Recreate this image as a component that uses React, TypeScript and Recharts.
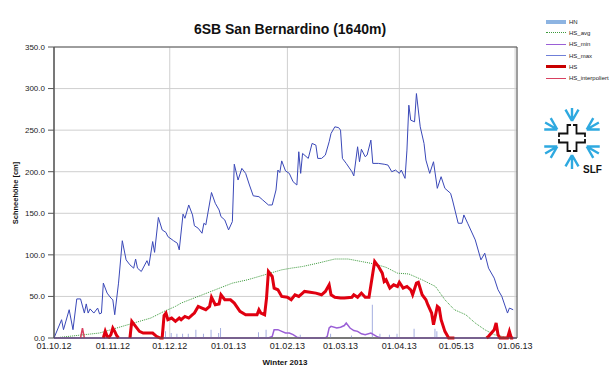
import {
  ComposedChart, Line, Bar, XAxis, YAxis, CartesianGrid, ReferenceArea,
} from 'recharts';

// day index counted from 01.10.12
const xTicks = [0, 31, 61, 92, 123, 151, 182, 212, 243];
const xTickLabels = ['01.10.12', '01.11.12', '01.12.12', '01.01.13', '01.02.13', '01.03.13', '01.04.13', '01.05.13', '01.06.13'];
const yTicks = [0, 50, 100, 150, 200, 250, 300, 350];

type Pt = [number, number | null];

const hsMax: Pt[] = [
  [0, 0], [4, 22], [5, 10], [8, 34], [10, 10], [12, 47], [14, 47], [16, 30], [17, 41], [18, 30],
  [19, 35], [21, 30], [23, 36], [24, 29], [25, 30], [26, 66], [28, 54], [30, 48], [31, 46], [32, 28],
  [34, 66], [36, 117], [38, 94], [40, 88], [42, 84], [43, 95], [44, 84], [46, 80], [49, 93], [50, 87],
  [52, 116], [53, 103], [55, 145], [57, 130], [59, 127], [60, 122], [63, 117], [65, 114], [66, 106],
  [68, 149], [69, 144], [71, 160], [73, 148], [74, 135], [76, 132], [78, 126], [79, 138], [80, 136],
  [83, 175], [85, 162], [87, 154], [88, 146], [90, 142], [92, 130], [94, 140], [95, 209], [97, 190],
  [99, 204], [101, 198], [103, 184], [105, 171], [108, 170], [110, 166], [113, 160], [115, 160],
  [117, 178], [118, 202], [119, 199], [120, 213], [122, 201], [124, 198], [126, 188], [128, 184],
  [129, 224], [130, 198], [131, 222], [134, 216], [136, 234], [138, 232], [139, 216], [141, 216],
  [143, 220], [145, 236], [146, 246], [148, 254], [150, 253], [151, 250], [152, 216], [154, 210],
  [157, 200], [158, 195], [160, 230], [161, 212], [162, 227], [164, 218], [165, 220], [167, 238],
  [168, 210], [171, 210], [174, 209], [176, 208], [178, 200], [180, 202], [182, 198], [183, 202],
  [185, 192], [186, 226], [187, 280], [188, 262], [190, 260], [191, 294], [193, 254], [195, 234],
  [196, 214], [198, 198], [200, 212], [202, 180], [204, 194], [206, 180], [209, 174], [210, 166],
  [213, 138], [215, 138], [216, 148], [218, 138], [222, 118], [225, 94], [227, 102], [229, 84],
  [232, 72], [234, 58], [236, 50], [239, 30], [240, 36], [242, 34],
];

const hs: Pt[] = [
  [26, 0], [27, 8], [28, 2], [29, 1], [30, 4], [31, 12], [32, 8], [33, 3], [34, 0], [35, null],
  [40, 0], [41, 20], [43, 14], [45, 8], [47, 6], [49, 6], [52, 6], [54, 2], [56, 0], [57, 0],
  [58, 27], [59, 30], [60, 22], [62, 24], [64, 20], [66, 24], [67, 22], [69, 26], [71, 24], [73, 28],
  [74, 30], [76, 38], [78, 36], [80, 34], [82, 38], [83, 49], [85, 40], [87, 41], [88, 52], [90, 46],
  [93, 46], [95, 42], [98, 32], [101, 28], [104, 28], [107, 28], [108, 34], [109, 30], [111, 28],
  [112, 48], [113, 80], [115, 74], [116, 60], [118, 58], [120, 50], [123, 49], [125, 46], [127, 52],
  [129, 50], [131, 54], [132, 56], [135, 55], [138, 54], [141, 52], [143, 56], [145, 64], [146, 52],
  [148, 49], [151, 48], [153, 48], [157, 49], [158, 52], [160, 49], [162, 54], [164, 49], [166, 49],
  [168, 78], [169, 92], [171, 86], [173, 78], [174, 68], [175, 70], [177, 60], [179, 64], [181, 62],
  [182, 67], [184, 60], [186, 62], [188, 58], [189, 52], [191, 66], [192, 67], [194, 52], [196, 46],
  [197, 40], [199, 30], [200, 16], [202, 38], [203, 36], [204, 22], [206, 8], [208, 0], [211, 0],
  [212, null], [228, 0], [229, 2], [232, 10], [233, 18], [234, 4], [235, 0], [239, 0], [240, 8],
  [241, 0], [242, 0],
];

const hsInterp: Pt[] = [[14, 0], [15, 12], [16, 0]];

const hsAvg: Pt[] = [
  [0, 0], [8, 2], [16, 4], [24, 6], [33, 12], [42, 18], [51, 24], [58, 32], [64, 38], [67, 42],
  [76, 50], [85, 58], [94, 66], [102, 70], [111, 76], [120, 82], [125, 84], [131, 86], [139, 90],
  [148, 95], [155, 95], [162, 92], [169, 89], [175, 85], [181, 78], [187, 77], [194, 70], [201, 62],
  [206, 46], [211, 34], [217, 28], [222, 18], [227, 10], [232, 4], [236, 2], [240, 0],
];

const hsMin: Pt[] = [
  [0, 0], [113, 0], [115, 2], [116, 10], [118, 10], [120, 8], [122, 6], [124, 6], [126, 4], [128, 1],
  [130, 0], [143, 0], [144, 2], [145, 12], [146, 14], [149, 12], [151, 13], [153, 15], [154, 18],
  [156, 12], [158, 9], [160, 8], [162, 5], [164, 4], [167, 6], [170, 2], [172, 0], [243, 0],
];

const hn: Pt[] = [
  [41, 12], [59, 8], [62, 6], [65, 5], [68, 5], [71, 5], [75, 10], [79, 5], [83, 10], [87, 6],
  [88, 12], [108, 7], [112, 10], [130, 4], [146, 5], [157, 3], [168, 40], [172, 5], [177, 4],
  [181, 5], [190, 11], [201, 11], [202, 8],
];

const legendNames = ['HN', 'HS_avg', 'HS_min', 'HS_max', 'HS', 'HS_interpoliert'];

const rows = (pts: Pt[]) => pts.map(([d, v]) => ({ d, v }));

const FONT = 'Arial, "Liberation Sans", sans-serif';

const legendSample: Record<string, React.CSSProperties> = {
  HN: { borderTop: '4px solid #8db4e2' },
  HS_avg: { borderTop: '1px dotted #3c9a3c' },
  HS_min: { borderTop: '1.5px solid #9a5fd6' },
  HS_max: { borderTop: '1.5px solid #6f7fd8' },
  HS: { borderTop: '3px solid #c80000' },
  HS_interpoliert: { borderTop: '1.5px solid #d84060' },
};

function Logo() {
  const cx = 32, cy = 30;
  const spokes = [-90, -30, 30, 90, 150, 210].map(a => {
    const r = (a * Math.PI) / 180;
    const ux = Math.cos(r), uy = Math.sin(r);
    const px = -uy, py = ux;
    const bx = cx + 17 * ux, by = cy + 17 * uy;
    const arm = (s: number) => {
      const ax = bx + 13 * (0.87 * ux + s * 0.5 * px);
      const ay = by + 13 * (0.87 * uy + s * 0.5 * py);
      return `M${bx},${by} L${ax},${ay}`;
    };
    return `M${bx},${by} L${cx + 31 * ux},${cy + 31 * uy} ${arm(1)} ${arm(-1)}`;
  });
  const q = 'M1,-13 L4.5,-13 L4.5,-4.5 L13,-4.5 L13,-1';
  return (
    <svg width={70} height={72} style={{ position: 'absolute', left: 540, top: 108 }}>
      {spokes.map((d, i) => (
        <path key={i} d={d} stroke="#2ea9e0" strokeWidth={2.4} fill="none" />
      ))}
      <g transform={`translate(${cx},${cy})`} stroke="#111" strokeWidth={1.8} fill="none">
        {[0, 90, 180, 270].map(r => <path key={r} d={q} transform={`rotate(${r})`} />)}
      </g>
      <text x={43} y={65} fontFamily={FONT} fontWeight="bold" fontSize={10} fill="#111">SLF</text>
    </svg>
  );
}

export default function App() {
  return (
    <div style={{ position: 'absolute', left: 0, top: 0, width: 616, height: 376, background: '#fff', fontFamily: FONT }}>
      <ComposedChart width={616} height={376} data={rows(hn)} margin={{ top: 47, right: 99, left: 0, bottom: 0 }}>
        <CartesianGrid stroke="#cfcfcf" />
        <XAxis
          dataKey="d" type="number" domain={[0, 244]} ticks={xTicks} height={38}
          tickFormatter={v => xTickLabels[xTicks.indexOf(v)] ?? ''}
          tick={{ fill: '#222', fontSize: 9, fontFamily: FONT }}
          tickLine={false} tickSize={3} tickMargin={2} axisLine={{ stroke: '#555' }}
        />
        <YAxis
          type="number" domain={[0, 350]} ticks={yTicks} width={54}
          tickFormatter={v => Number(v).toFixed(1)}
          tick={{ fill: '#222', fontSize: 8, fontFamily: FONT }}
          tickSize={6} tickMargin={3} axisLine={{ stroke: '#555' }} tickLine={{ stroke: '#555' }}
        />
        <Bar dataKey="v" name="HN" fill="#a4aee0" barSize={1} isAnimationActive={false} />
        <Line data={rows(hsAvg)} dataKey="v" name="HS_avg" stroke="#3c9a3c" strokeWidth={1} strokeDasharray="1 1" dot={false} isAnimationActive={false} />
        <Line data={rows(hsMin)} dataKey="v" name="HS_min" stroke="#9a5fd6" strokeWidth={1.5} dot={false} isAnimationActive={false} />
        <Line data={rows(hsMax)} dataKey="v" name="HS_max" stroke="#3a48b8" strokeWidth={1} dot={false} isAnimationActive={false} />
        <Line data={rows(hsInterp)} dataKey="v" name="HS_interpoliert" stroke="#d84060" strokeWidth={1.5} dot={false} isAnimationActive={false} />
        <Line data={rows(hs)} dataKey="v" name="HS" stroke="#e00010" strokeWidth={3} dot={false} isAnimationActive={false} />
        <ReferenceArea x1={0} x2={244} y1={0} y2={350} fill="none" stroke="#555" />
      </ComposedChart>

      <div style={{ position: 'absolute', left: 0, width: 580, top: 21, textAlign: 'center', fontSize: 14, lineHeight: '16px', fontWeight: 'bold', color: '#111' }}>
        6SB San Bernardino (1640m)
      </div>
      <div style={{ position: 'absolute', left: 15, top: 193, transform: 'translate(-50%, -50%) rotate(-90deg)', whiteSpace: 'nowrap', fontSize: 7.5, fontWeight: 'bold', color: '#111' }}>
        Schneehöhe [cm]
      </div>
      <div style={{ position: 'absolute', left: 285, top: 358, transform: 'translateX(-50%)', whiteSpace: 'nowrap', fontSize: 8, lineHeight: '10px', fontWeight: 'bold', color: '#111' }}>
        Winter 2013
      </div>

      <div style={{ position: 'absolute', left: 546, top: 16 }}>
        {legendNames.map(n => (
          <div key={n} style={{ display: 'flex', alignItems: 'center', height: 11.3 }}>
            <div style={{ width: 20, ...legendSample[n] }} />
            <span style={{ marginLeft: 3, fontSize: 6, color: '#222', whiteSpace: 'nowrap' }}>{n}</span>
          </div>
        ))}
      </div>

      <Logo />
    </div>
  );
}
